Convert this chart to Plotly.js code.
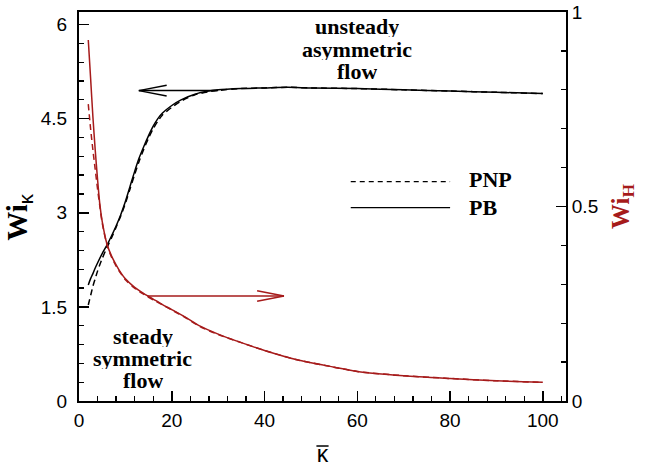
<!DOCTYPE html>
<html>
<head>
<meta charset="utf-8">
<script src="https://cdn.plot.ly/plotly-3.0.1.min.js"></script>
<style>html,body{margin:0;padding:0;background:#fff;}#chart{width:645px;height:467px;}</style>
</head>
<body>
<div id="chart"></div>
<script>
// ---- data ----
const kappaPB  = [2, 2.5, 3, 3.5, 4, 5, 6, 7, 8, 9, 10, 11, 12, 13, 14, 15, 16, 17, 18, 20, 22, 25, 28, 30, 35, 40, 45, 50, 60, 70, 80, 90, 100];
const wiK_PB   = [1.85, 1.95, 2.03, 2.12, 2.20, 2.35, 2.48, 2.63, 2.79, 2.97, 3.18, 3.42, 3.66, 3.88, 4.06, 4.23, 4.38, 4.50, 4.59, 4.71, 4.80, 4.89, 4.94, 4.96, 4.98, 4.99, 5.00, 4.99, 4.98, 4.96, 4.94, 4.92, 4.90];
const kappaPNP = [2, 2.3, 2.6, 3, 3.5, 4, 5, 6, 7, 8, 9, 10, 11, 12, 13, 14, 15, 16, 17, 18, 20, 22, 25, 28, 30, 35, 40, 45, 50, 60, 70, 80, 90, 100];
const wiK_PNP  = [1.53, 1.62, 1.71, 1.83, 1.95, 2.07, 2.27, 2.44, 2.60, 2.77, 2.95, 3.15, 3.38, 3.61, 3.83, 4.02, 4.19, 4.34, 4.46, 4.56, 4.68, 4.78, 4.88, 4.93, 4.95, 4.98, 4.99, 5.00, 4.99, 4.98, 4.96, 4.94, 4.92, 4.90];
const kappaH   = [2, 2.5, 3, 3.5, 4, 4.5, 5, 6, 7, 8, 9, 10, 12, 14, 16, 18, 20, 23, 26, 30, 35, 40, 47, 55, 60, 70, 80, 90, 100];
const wiH_PB   = [0.928, 0.83, 0.73, 0.645, 0.57, 0.505, 0.462, 0.405, 0.373, 0.350, 0.330, 0.314, 0.292, 0.276, 0.262, 0.248, 0.235, 0.215, 0.193, 0.172, 0.150, 0.130, 0.106, 0.087, 0.076, 0.065, 0.058, 0.052, 0.048];
const wiH_PNP  = [0.763, 0.70, 0.645, 0.595, 0.545, 0.50, 0.458, 0.403, 0.370, 0.347, 0.328, 0.312, 0.290, 0.274, 0.260, 0.247, 0.234, 0.214, 0.192, 0.171, 0.150, 0.130, 0.106, 0.087, 0.076, 0.065, 0.058, 0.052, 0.048];
const xTicks   = [0, 20, 40, 60, 80, 100];
const yTicks   = [0, 1.5, 3, 4.5, 6];
const y2Ticks  = [0, 0.5, 1];
const seriesNames = ['PNP', 'PB'];

const RED = '#a61b1b';
const serif = '"Liberation Serif", "Times New Roman", serif';
const sans = '"Liberation Sans", Arial, sans-serif';

const traces = [
  {x: kappaPNP, y: wiK_PNP, mode: 'lines', name: 'PNP', line: {color: 'black', width: 1.5, dash: '6px,4px', shape: 'spline', smoothing: 0.8}},
  {x: kappaPB,  y: wiK_PB,  mode: 'lines', name: 'PB',  line: {color: 'black', width: 1.5, shape: 'spline', smoothing: 0.8}},
  {x: kappaH,   y: wiH_PNP, yaxis: 'y2', mode: 'lines', name: 'PNP H', line: {color: RED, width: 1.5, dash: '6px,4px', shape: 'spline', smoothing: 0.8}},
  {x: kappaH,   y: wiH_PB,  yaxis: 'y2', mode: 'lines', name: 'PB H',  line: {color: RED, width: 1.5, shape: 'spline', smoothing: 0.8}}
];

function arrow(x0, x1, y, headX, color) {
  const dy = 0.085;
  return [
    {type: 'line', xref: 'x', yref: 'y', x0: x0, x1: x1, y0: y, y1: y, line: {color: color, width: 1.5}},
    {type: 'line', xref: 'x', yref: 'y', x0: x1, x1: headX, y0: y, y1: y + dy, line: {color: color, width: 1.5}},
    {type: 'line', xref: 'x', yref: 'y', x0: x1, x1: headX, y0: y, y1: y - dy, line: {color: color, width: 1.5}}
  ];
}

const shapes = [].concat(
  arrow(30, 12.9, 4.947, 18.9, 'black'),
  arrow(14.7, 44.2, 1.674, 38.4, RED),
  [
    {type: 'line', xref: 'paper', yref: 'paper', x0: 0.558, x1: 0.762, y0: 0.564, y1: 0.564, line: {color: 'black', width: 1.3, dash: '5px,4px'}},
    {type: 'line', xref: 'paper', yref: 'paper', x0: 0.558, x1: 0.762, y0: 0.497, y1: 0.497, line: {color: 'black', width: 1.3}},
    // overbar of the x-axis title symbol
    {type: 'line', xref: 'paper', yref: 'paper', x0: 0.4875, x1: 0.5125, y0: -0.1157, y1: -0.1157, line: {color: 'black', width: 1.5}}
  ]
);

function label(text, x, y) {
  return {text: '<b>' + text + '</b>', x: x, y: y, xref: 'x', yref: 'y', showarrow: false, height: 22,
          xanchor: 'center', yanchor: 'middle', font: {family: serif, size: 22, color: 'black'}};
}

const annotations = [
  label('unsteady', 60.0, 5.97),
  label('asymmetric', 60.0, 5.61),
  label('flow', 60.0, 5.26),
  label('steady', 13.7, 1.03),
  label('symmetric', 13.7, 0.69),
  label('flow', 13.7, 0.34),
  {text: '<b>' + seriesNames[0] + '</b>', x: 0.796, y: 0.569, xref: 'paper', yref: 'paper', showarrow: false, xanchor: 'left', yanchor: 'middle', font: {family: serif, size: 22, color: 'black'}},
  {text: '<b>' + seriesNames[1] + '</b>', x: 0.796, y: 0.498, xref: 'paper', yref: 'paper', showarrow: false, xanchor: 'left', yanchor: 'middle', font: {family: serif, size: 22, color: 'black'}}
];

const axCommon = {
  ticks: 'inside', ticklen: 10, tickwidth: 1.5, tickcolor: 'black',
  showline: true, linewidth: 2, linecolor: 'black',
  showgrid: false, zeroline: false,
  tickfont: {family: sans, size: 19, color: 'black'}
};

const layout = {
  width: 645, height: 467,
  margin: {l: 79, r: 79, t: 12, b: 66, pad: 0},
  paper_bgcolor: 'white', plot_bgcolor: 'white',
  showlegend: false,
  xaxis: Object.assign({}, axCommon, {
    range: [0, 105], tickvals: xTicks, mirror: true, ticklabelstandoff: 1,
    minor: {ticks: 'inside', ticklen: 5, dtick: 4, tick0: 0, tickcolor: 'black', tickwidth: 1.3, showgrid: false},
    title: {text: 'κ', font: {family: sans, size: 23, color: 'black'}, standoff: 17}
  }),
  yaxis: Object.assign({}, axCommon, {
    range: [0, 6.2], tickvals: yTicks, ticklabelstandoff: 6,
    minor: {ticks: 'inside', ticklen: 5, dtick: 0.3, tick0: 0, tickcolor: 'black', tickwidth: 1.3, showgrid: false},
    title: {text: '<b>Wi</b><sub><span style="font-family:Liberation Sans">κ</span></sub><span>&#160;&#160;&#160;</span>', font: {family: serif, size: 29, color: 'black'}, standoff: 5}
  }),
  yaxis2: Object.assign({}, axCommon, {
    overlaying: 'y', side: 'right', range: [0, 1], tickvals: y2Ticks, ticklabelstandoff: 0,
    minor: {ticks: 'inside', ticklen: 5, dtick: 0.1, tick0: 0, tickcolor: 'black', tickwidth: 1.3, showgrid: false},
    title: {text: '<b>Wi<sub>H</sub></b>', font: {family: serif, size: 25, color: RED}, standoff: 14}
  }),
  shapes: shapes,
  annotations: annotations
};

Plotly.newPlot('chart', traces, layout, {displayModeBar: false, staticPlot: true});
</script>
</body>
</html>
